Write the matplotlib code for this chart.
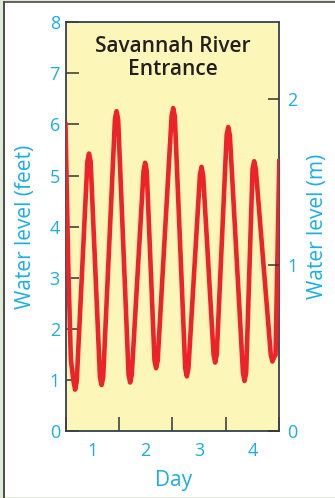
#!/usr/bin/env python
# -*- coding: utf-8 -*-

from matplotlib import pyplot as plt
from matplotlib.patches import Rectangle
from matplotlib.lines import Line2D
from matplotlib.ticker import FixedLocator, NullFormatter

# water level (day, feet)
day = [0.00, 0.05, 0.10, 0.15, 0.18, 0.21,
       0.41, 0.44, 0.47,
       0.645, 0.675, 0.705,
       0.925, 0.955, 0.985,
       1.18, 1.21, 1.24,
       1.46, 1.49, 1.52,
       1.665, 1.695, 1.725,
       1.985, 2.015, 2.045,
       2.24, 2.27, 2.30,
       2.515, 2.545, 2.575,
       2.77, 2.80, 2.83,
       3.015, 3.045, 3.075,
       3.32, 3.35, 3.38,
       3.50, 3.53, 3.56,
       3.84, 3.87, 3.90,
       3.93, 4.00]
level_ft = [6.00, 3.30, 1.40, 0.97, 0.81, 0.97,
            5.28, 5.43, 5.28,
            1.05, 0.90, 1.05,
            6.10, 6.26, 6.10,
            1.10, 0.95, 1.10,
            5.09, 5.25, 5.09,
            1.38, 1.23, 1.38,
            6.16, 6.32, 6.16,
            1.23, 1.07, 1.23,
            5.01, 5.17, 5.01,
            1.50, 1.34, 1.50,
            5.79, 5.95, 5.79,
            1.14, 0.98, 1.14,
            5.13, 5.28, 5.13,
            1.50, 1.36, 1.44,
            1.49, 5.28]

ft_ticks = [0, 1, 2, 3, 4, 5, 6, 7, 8]
m_ticks = [0, 1, 2]
m_top = 2.46          # metres at the 8 ft line, as drawn
day_bounds = [0, 1, 2, 3, 4]
day_centers = [0.5, 1.5, 2.5, 3.5]
day_labels = ['1', '2', '3', '4']

title = 'Savannah River\nEntrance'

cyan = '#1aaee8'
red = '#ee2229'
dark = '#33424c'
W, H = 335, 498

plt.rcParams['font.family'] = ['Open Sans', 'DejaVu Sans']

fig = plt.figure(figsize=(W / 100, H / 100), dpi=100)
fig.patch.set_facecolor('#e0ebd7')

# white panel with a dark edge on left and top
fig.patches.append(Rectangle((4.5 / W, 1 / H), 1 - 4.5 / W, (H - 3.5) / H,
                             transform=fig.transFigure, facecolor='white',
                             edgecolor='none', zorder=-2))
fig.lines.append(Line2D([4 / W, 4 / W], [0, (H - 2.5) / H], transform=fig.transFigure,
                        color='#4b4b4b', lw=1.4, zorder=-1))
fig.lines.append(Line2D([4 / W, 1], [(H - 2.5) / H, (H - 2.5) / H], transform=fig.transFigure,
                        color='#4b4b4b', lw=1.2, zorder=-1))

ax = fig.add_axes([65.5 / W, 1 - 431 / H, 213.8 / W, 408.7 / H])
ax.set_facecolor('#fdf6b9')
ax.plot(day, level_ft, color=red, lw=3.3, solid_joinstyle='round', zorder=3)

ax.set_xlim(0, 4)
ax.set_ylim(0, 8)
ax.set_yticks(ft_ticks)
ax.tick_params(axis='y', direction='in', length=9.5, width=1.1, color='#333333',
               labelcolor=cyan, labelsize=13, pad=4)

ax.xaxis.set_major_locator(FixedLocator(day_bounds))
ax.xaxis.set_major_formatter(NullFormatter())
ax.xaxis.set_minor_locator(FixedLocator(day_centers))
ax.set_xticklabels(day_labels, minor=True)
ax.tick_params(axis='x', which='major', direction='in', length=10, width=1.1, color='#333333')
ax.tick_params(axis='x', which='minor', length=0, labelcolor=cyan, labelsize=13, pad=8)

for s in ax.spines.values():
    s.set_color(dark)
    s.set_linewidth(1.3)

ax.set_ylabel('Water level (feet)', color=cyan, fontsize=15, va='center')
ax.yaxis.set_label_coords(-0.189, 0.5)
ax.set_xlabel('Day', color=cyan, fontsize=15, va='center')
ax.xaxis.set_label_coords(0.507, -0.12)

ax.text(0.5, 0.912, title, transform=ax.transAxes, ha='center', va='center',
        fontsize=15, fontweight='semibold', color='#231f20', linespacing=1.12, zorder=4)

ax2 = ax.twinx()
ax2.set_ylim(0, m_top)
ax2.set_yticks(m_ticks)
ax2.tick_params(axis='y', direction='in', length=8, width=1.1, color='#333333',
                labelcolor=cyan, labelsize=13, pad=5.5)
for s in ax2.spines.values():
    s.set_visible(False)
ax2.set_ylabel('Water level (m)', color=cyan, fontsize=15, va='center')
ax2.yaxis.set_label_coords(1.181, 0.5)

fig.savefig('out.png', dpi=100, facecolor=fig.get_facecolor())
